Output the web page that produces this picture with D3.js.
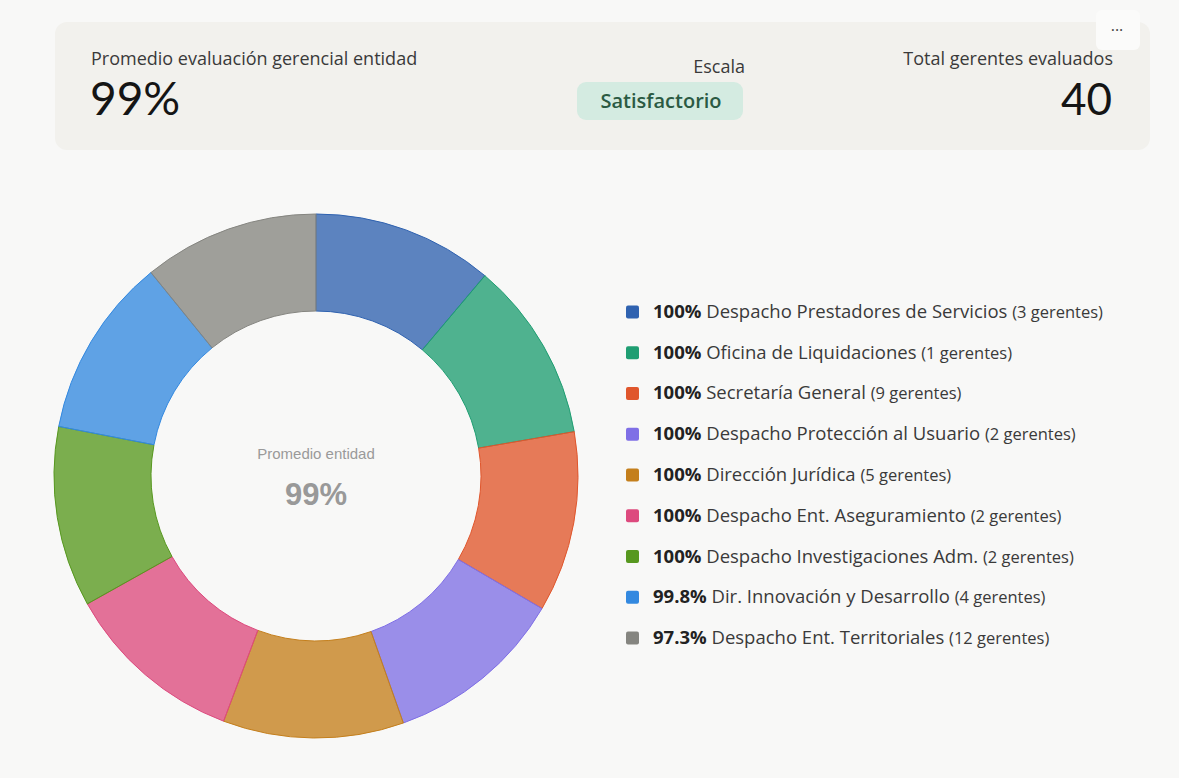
<!DOCTYPE html>
<html>
<head>
<meta charset="utf-8">
<script src="https://cdn.jsdelivr.net/npm/d3@7"></script>
<style>
  html, body { margin: 0; padding: 0; background: #f8f8f7; }
  svg { display: block; }
</style>
</head>
<body>
<svg></svg>
<script>
const areas = [
  "Despacho Prestadores de Servicios",
  "Oficina de Liquidaciones",
  "Secretaría General",
  "Despacho Protección al Usuario",
  "Dirección Jurídica",
  "Despacho Ent. Aseguramiento",
  "Despacho Investigaciones Adm.",
  "Dir. Innovación y Desarrollo",
  "Despacho Ent. Territoriales"
];
const scores = [100, 100, 100, 100, 100, 100, 100, 99.8, 97.3];
const managers = [3, 1, 9, 2, 5, 2, 2, 4, 12];
const colors = ["#2f62b0", "#1f9e72", "#e0562c", "#7f6fe6", "#c47f1c",
                "#dd4a7e", "#57981f", "#3389e0", "#858580"];

const avgLabel = "99%";
const totalManagers = 40;
const scaleLabel = "Satisfactorio";

const width = 1179, height = 778;
const cx = 316, cy = 476, rOuter = 262, rInner = 165;

const svg = d3.select("svg")
    .attr("width", width)
    .attr("height", height)
    .attr("viewBox", [0, 0, width, height]);

const font = "'Open Sans', sans-serif";
const numFont = "Lato, sans-serif";

// header card
svg.append("rect")
    .attr("x", 55).attr("y", 22)
    .attr("width", 1095).attr("height", 128)
    .attr("rx", 12)
    .attr("fill", "#f2f1ed");

svg.append("rect")
    .attr("x", 1096).attr("y", 10)
    .attr("width", 44).attr("height", 40)
    .attr("rx", 6)
    .attr("fill", "#fbfbfa");
svg.append("text")
    .attr("x", 1117).attr("y", 36)
    .attr("text-anchor", "middle")
    .attr("font-family", font).attr("font-size", 16)
    .attr("fill", "#444")
    .text("···");

svg.append("text")
    .attr("x", 91).attr("y", 65)
    .attr("font-family", font).attr("font-size", 18)
    .attr("fill", "#3a3a3a")
    .text("Promedio evaluación gerencial entidad");
svg.append("text")
    .attr("x", 90).attr("y", 115)
    .attr("font-family", numFont).attr("font-size", 46)
    .attr("fill", "#151515")
    .text(avgLabel);

svg.append("text")
    .attr("x", 745).attr("y", 73)
    .attr("text-anchor", "end")
    .attr("font-family", font).attr("font-size", 18)
    .attr("fill", "#3a3a3a")
    .text("Escala");
svg.append("rect")
    .attr("x", 577).attr("y", 82)
    .attr("width", 166).attr("height", 38)
    .attr("rx", 9)
    .attr("fill", "#d4ebe1");
svg.append("text")
    .attr("x", 661).attr("y", 108)
    .attr("text-anchor", "middle")
    .attr("font-family", font).attr("font-size", 20)
    .attr("font-weight", 600)
    .attr("fill", "#2b5a43")
    .text(scaleLabel);

svg.append("text")
    .attr("x", 1113).attr("y", 65)
    .attr("text-anchor", "end")
    .attr("font-family", font).attr("font-size", 18)
    .attr("fill", "#3a3a3a")
    .text("Total gerentes evaluados");
svg.append("text")
    .attr("x", 1112).attr("y", 115)
    .attr("text-anchor", "end")
    .attr("font-family", numFont).attr("font-size", 44)
    .attr("fill", "#151515")
    .text(totalManagers);

// donut
const data = areas.map((a, i) => ({ area: a, score: scores[i], n: managers[i], color: colors[i] }));

const pie = d3.pie()
    .sort(null)
    .value(d => d.score);

const arc = d3.arc()
    .innerRadius(rInner)
    .outerRadius(rOuter);

const g = svg.append("g")
    .attr("transform", `translate(${cx},${cy})`);

g.selectAll("path")
    .data(pie(data))
    .join("path")
    .attr("d", arc)
    .attr("fill", d => d.data.color)
    .attr("fill-opacity", 0.78)
    .attr("stroke", d => d.data.color)
    .attr("stroke-width", 1);

g.append("text")
    .attr("y", -17)
    .attr("text-anchor", "middle")
    .attr("font-family", "'Liberation Sans', Arial, sans-serif")
    .attr("font-size", 15)
    .attr("fill", "#9a9a9a")
    .text("Promedio entidad");
g.append("text")
    .attr("y", 29)
    .attr("text-anchor", "middle")
    .attr("font-family", "'Liberation Sans', Arial, sans-serif")
    .attr("font-size", 31)
    .attr("font-weight", 700)
    .attr("fill", "#999")
    .text(avgLabel);

// legend
const ly = d3.scaleBand()
    .domain(areas)
    .range([291, 658]);

const legend = svg.append("g")
    .selectAll("g")
    .data(data)
    .join("g")
    .attr("transform", d => `translate(626,${ly(d.area) + ly.bandwidth() / 2})`);

legend.append("rect")
    .attr("x", 0).attr("y", -6)
    .attr("width", 13).attr("height", 13)
    .attr("rx", 2)
    .attr("fill", d => d.color);

const lt = legend.append("text")
    .attr("x", 27).attr("y", 6.5)
    .attr("font-family", font)
    .attr("font-size", 18.5)
    .attr("fill", "#3a3a3a");
lt.append("tspan")
    .attr("font-weight", 700)
    .attr("fill", "#222")
    .text(d => (d.score === 100 ? "100" : d3.format(".1f")(d.score)) + "%");
lt.append("tspan")
    .text(d => " " + d.area + " ");
lt.append("tspan")
    .attr("font-size", 16.5)
    .text(d => `(${d.n} gerentes)`);
</script>
</body>
</html>
